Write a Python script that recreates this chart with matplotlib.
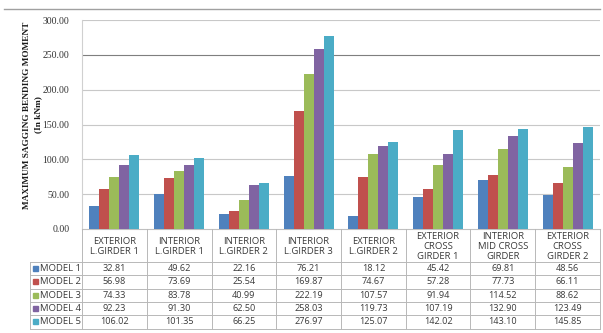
import matplotlib
matplotlib.use("Agg")
import matplotlib.pyplot as plt
import numpy as np
from matplotlib.transforms import blended_transform_factory
from matplotlib.patches import Rectangle
from matplotlib.lines import Line2D

categories = ["EXTERIOR\nL.GIRDER 1", "INTERIOR\nL.GIRDER 1", "INTERIOR\nL.GIRDER 2",
              "INTERIOR\nL.GIRDER 3", "EXTERIOR\nL.GIRDER 2", "EXTERIOR\nCROSS\nGIRDER 1",
              "INTERIOR\nMID CROSS\nGIRDER", "EXTERIOR\nCROSS\nGIRDER 2"]
series_names = ["MODEL 1", "MODEL 2", "MODEL 3", "MODEL 4", "MODEL 5"]
model1 = [32.81, 49.62, 22.16, 76.21, 18.12, 45.42, 69.81, 48.56]
model2 = [56.98, 73.69, 25.54, 169.87, 74.67, 57.28, 77.73, 66.11]
model3 = [74.33, 83.78, 40.99, 222.19, 107.57, 91.94, 114.52, 88.62]
model4 = [92.23, 91.30, 62.50, 258.03, 119.73, 107.19, 132.90, 123.49]
model5 = [106.02, 101.35, 66.25, 276.97, 125.07, 142.02, 143.10, 145.85]
series = [model1, model2, model3, model4, model5]
colors = ["#4F81BD", "#C0504D", "#9BBB59", "#8064A2", "#4BACC6"]
yticks = [0, 50, 100, 150, 200, 250, 300]

W, H = 603, 333
fig = plt.figure(figsize=(W / 100, H / 100), dpi=100)
fig.patch.set_facecolor("white")

def fx(px): return px / W
def fy(py): return 1 - py / H

ax_l, ax_r, ax_t, ax_b = 82, 600, 20, 229
ax = fig.add_axes([fx(ax_l), fy(ax_b), fx(ax_r) - fx(ax_l), fy(ax_t) - fy(ax_b)])
n = len(categories)
ax.set_xlim(0, n)
ax.set_ylim(0, 300)

bw = 0.155
x = np.arange(n) + 0.5
for i, (vals, c) in enumerate(zip(series, colors)):
    ax.bar(x + (i - 2) * bw, vals, width=bw, color=c, zorder=3)

ax.set_yticks(yticks)
ax.set_yticklabels([f"{v:.2f}" for v in yticks], fontfamily="Liberation Serif", fontsize=7, color="#333333")
ax.tick_params(axis="y", length=0, pad=9)
ax.set_xticks([])
for v in yticks[1:]:
    col = "#7F7F7F" if v == 250 else "#C8C8C8"
    ax.axhline(v, color=col, lw=0.8, zorder=1)
for s in ["top", "right"]:
    ax.spines[s].set_visible(False)
ax.spines["left"].set_color("#D0D0D0")
ax.spines["bottom"].set_color("#C0C0C0")
ax.spines["left"].set_linewidth(0.8)
ax.spines["bottom"].set_linewidth(0.8)

# y label
fig.text(fx(27), fy(115), "MAXIMUM SAGGING BENDING MOMENT", rotation=90, ha="center", va="center",
         fontfamily="Liberation Serif", fontweight="bold", fontsize=6.7, color="#1a1a1a")
fig.text(fx(38), fy(115), "(In kNm)", rotation=90, ha="center", va="center",
         fontfamily="Liberation Serif", fontweight="bold", fontsize=6.7, color="#1a1a1a")

# top rule
fig.add_artist(Line2D([fx(4), fx(600)], [fy(9), fy(9)], color="#A0A0A0", lw=1.0))

# table
tr = blended_transform_factory(ax.transData, fig.transFigure)
grid_c = "#B8B8B8"
row_tops = [262, 275.3, 288.6, 301.9, 315.2, 328.5]
tbl_left = 30
for k in range(n + 1):
    fig.add_artist(Line2D([fx(ax_l + k * (ax_r - ax_l) / n)] * 2, [fy(ax_b), fy(row_tops[-1])],
                          color=grid_c, lw=0.7))
fig.add_artist(Line2D([fx(tbl_left)] * 2, [fy(row_tops[0]), fy(row_tops[-1])], color=grid_c, lw=0.7))
for yy in row_tops:
    fig.add_artist(Line2D([fx(tbl_left), fx(ax_r)], [fy(yy), fy(yy)], color=grid_c, lw=0.7))

# header labels
for k, cat in enumerate(categories):
    fig.text(x[k], fy(246.5), cat, transform=tr, ha="center", va="center", fontsize=6.8,
             fontfamily="Open Sans", color="#3a3a3a", linespacing=1.1)

# rows
for r, (name, vals, c) in enumerate(zip(series_names, series, colors)):
    yc = (row_tops[r] + row_tops[r + 1]) / 2
    fig.add_artist(Rectangle((fx(33), fy(yc) - 2.5 / H), 5 / W, 5 / H, color=c,
                             transform=fig.transFigure))
    fig.text(fx(40), fy(yc), name, ha="left", va="center", fontsize=6.8,
             fontfamily="Open Sans", color="#3a3a3a")
    for k, v in enumerate(vals):
        fig.text(x[k], fy(yc), f"{v:.2f}", transform=tr, ha="center", va="center",
                 fontsize=6.6, fontfamily="Open Sans", color="#3a3a3a")

fig.savefig("out.png", dpi=100, facecolor="white")
